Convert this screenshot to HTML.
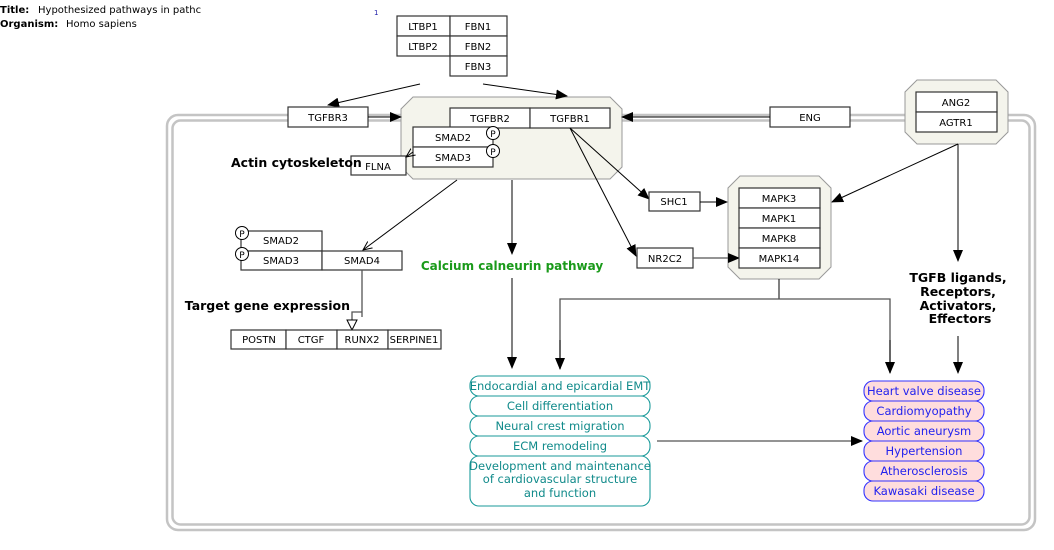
<!DOCTYPE html>
<html><head><meta charset="utf-8"><style>
html,body{margin:0;padding:0;background:#fff;}
svg{display:block;font-family:"DejaVu Sans","Liberation Sans",sans-serif;}
.n{fill:#fff;stroke:#333;stroke-width:1.2}
.t{font-size:10px;fill:#000;text-anchor:middle}
.l{stroke:#000;stroke-width:1;fill:none}
.g{stroke:#555;stroke-width:1.3;fill:none}
.p{fill:#fff;stroke:#1a9a9a;stroke-width:1.1}
.pt{font-size:11.5px;fill:#108a8a;text-anchor:middle}
.d{fill:#ffdddd;stroke:#3333ff;stroke-width:1.1}
.dt{font-size:11.5px;fill:#2222ee;text-anchor:middle}
.b{font-size:12.5px;font-weight:bold;fill:#000}
</style></head><body>
<svg width="1054" height="550" viewBox="0 0 1054 550">
<defs>
<marker id="a" markerWidth="12" markerHeight="10" refX="11" refY="5" orient="auto" markerUnits="userSpaceOnUse"><path d="M0,0 L12,5 L0,10Z" fill="#000"/></marker>
<marker id="o" markerWidth="10" markerHeight="10" refX="9" refY="5" orient="auto" markerUnits="userSpaceOnUse"><path d="M0,1 L9,5 L0,9" fill="none" stroke="#000"/></marker>
</defs>
<text x="0" y="13" style="font-size:10px;font-weight:bold">Title:</text><text x="38" y="13" style="font-size:10px">Hypothesized pathways in pathc</text>
<text x="0" y="27" style="font-size:10px;font-weight:bold">Organism:</text><text x="66" y="27" style="font-size:10px">Homo sapiens</text>
<text x="374" y="15" style="font-size:7px;fill:#22a">1</text>

<!-- membrane -->
<rect x="167" y="115" width="868" height="415" rx="11" fill="none" stroke="#c4c4c4" stroke-width="2.5"/>
<rect x="172.5" y="120.5" width="857" height="404" rx="8" fill="none" stroke="#c4c4c4" stroke-width="2.5"/>

<!-- groups -->
<path d="M413,97 L610,97 L622,109 L622,167 L610,179 L413,179 L401,167 L401,109Z" fill="#f4f4ec" stroke="#999"/>
<path d="M917,80 L996,80 L1008,92 L1008,132 L996,144 L917,144 L905,132 L905,92Z" fill="#f4f4ec" stroke="#999"/>
<path d="M740,176 L819,176 L831,188 L831,267 L819,279 L740,279 L728,267 L728,188Z" fill="#f4f4ec" stroke="#999"/>

<!-- top nodes -->
<rect class="n" x="397" y="16" width="53" height="20"/><text class="t" x="423" y="30">LTBP1</text>
<rect class="n" x="450" y="16" width="57" height="20"/><text class="t" x="478" y="30">FBN1</text>
<rect class="n" x="397" y="36" width="53" height="20"/><text class="t" x="423" y="50">LTBP2</text>
<rect class="n" x="450" y="36" width="57" height="20"/><text class="t" x="478" y="50">FBN2</text>
<rect class="n" x="450" y="56" width="57" height="20"/><text class="t" x="478" y="70">FBN3</text>
<line class="l" x1="420" y1="84" x2="328" y2="105" marker-end="url(#a)"/>
<line class="l" x1="483" y1="84" x2="567" y2="96" marker-end="url(#a)"/>

<rect class="n" x="288" y="107" width="80" height="20"/><text class="t" x="328" y="121">TGFBR3</text>
<line class="l" x1="368" y1="117" x2="401" y2="117" marker-end="url(#a)"/>
<rect class="n" x="450" y="108" width="80" height="20"/><text class="t" x="490" y="122">TGFBR2</text>
<rect class="n" x="530" y="108" width="80" height="20"/><text class="t" x="570" y="122">TGFBR1</text>
<rect class="n" x="413" y="127" width="80" height="20"/><text class="t" x="453" y="141">SMAD2</text>
<rect class="n" x="413" y="147" width="80" height="20"/><text class="t" x="453" y="161">SMAD3</text>
<circle cx="493" cy="133" r="6.5" fill="#fff" stroke="#000"/><text x="493" y="137" style="font-size:9px;text-anchor:middle">P</text>
<circle cx="493" cy="151" r="6.5" fill="#fff" stroke="#000"/><text x="493" y="155" style="font-size:9px;text-anchor:middle">P</text>
<rect class="n" x="351" y="156" width="55" height="19"/><text class="t" x="378" y="170">FLNA</text>
<line class="l" x1="413" y1="152" x2="406" y2="157" marker-end="url(#o)"/>
<text class="b" x="231" y="167">Actin cytoskeleton</text>

<rect class="n" x="770" y="107" width="80" height="20"/><text class="t" x="810" y="121">ENG</text>
<line class="l" x1="770" y1="117" x2="622" y2="117" marker-end="url(#a)"/>
<rect class="n" x="916" y="92" width="81" height="20"/><text class="t" x="956" y="106">ANG2</text>
<rect class="n" x="916" y="112" width="81" height="20"/><text class="t" x="956" y="126">AGTR1</text>

<line class="l" x1="570" y1="128" x2="649" y2="199" marker-end="url(#a)"/>
<line class="l" x1="570" y1="128" x2="636" y2="256" marker-end="url(#a)"/>
<rect class="n" x="649" y="192" width="51" height="19"/><text class="t" x="674" y="205">SHC1</text>
<rect class="n" x="637" y="248" width="56" height="20"/><text class="t" x="665" y="262">NR2C2</text>
<line class="l" x1="700" y1="202" x2="727" y2="202" marker-end="url(#a)"/>
<line class="g" x1="693" y1="258" x2="739" y2="258" marker-end="url(#a)"/>
<rect class="n" x="739" y="188" width="81" height="20"/><text class="t" x="779" y="202">MAPK3</text>
<rect class="n" x="739" y="208" width="81" height="20"/><text class="t" x="779" y="222">MAPK1</text>
<rect class="n" x="739" y="228" width="81" height="20"/><text class="t" x="779" y="242">MAPK8</text>
<rect class="n" x="739" y="248" width="81" height="20"/><text class="t" x="779" y="262">MAPK14</text>

<line class="l" x1="958" y1="144" x2="832" y2="202" marker-end="url(#a)"/>
<line class="l" x1="958" y1="144" x2="958" y2="261" marker-end="url(#a)"/>
<g class="b" style="text-anchor:middle"><text x="958" y="282">TGFB ligands,</text><text x="958" y="296">Receptors,</text><text x="958" y="310">Activators,</text><text x="960" y="323">Effectors</text></g>
<line class="l" x1="958" y1="336" x2="958" y2="373" marker-end="url(#a)"/>

<polyline class="l" points="779,279 779,299" />
<polyline class="g" points="560,369 560,299 890,299 890,373" fill="none"/>
<line class="l" x1="560" y1="340" x2="560" y2="369" marker-end="url(#a)"/>
<line class="l" x1="890" y1="340" x2="890" y2="373" marker-end="url(#a)"/>

<!-- smad lower -->
<line class="l" x1="457" y1="180" x2="363" y2="250" marker-end="url(#o)"/>
<line class="l" x1="512" y1="180" x2="512" y2="254" marker-end="url(#a)"/>
<rect class="n" x="241" y="231" width="81" height="20"/><text class="t" x="281" y="244">SMAD2</text>
<rect class="n" x="241" y="251" width="81" height="19"/><text class="t" x="281" y="264">SMAD3</text>
<rect class="n" x="322" y="251" width="80" height="19"/><text class="t" x="362" y="264">SMAD4</text>
<circle cx="242" cy="233" r="6.5" fill="#fff" stroke="#000"/><text x="242" y="237" style="font-size:9px;text-anchor:middle">P</text>
<circle cx="242" cy="254" r="6.5" fill="#fff" stroke="#000"/><text x="242" y="258" style="font-size:9px;text-anchor:middle">P</text>
<polyline class="g" points="362,270 362,317 362,312 352,312 352,320"/>
<path d="M347,320 L357,320 L352,330Z" fill="#fff" stroke="#000"/>
<text class="b" x="350" y="310" style="text-anchor:end">Target gene expression</text>
<rect class="n" x="231" y="330" width="55" height="19"/><text class="t" x="259" y="343">POSTN</text>
<rect class="n" x="286" y="330" width="51" height="19"/><text class="t" x="311" y="343">CTGF</text>
<rect class="n" x="337" y="330" width="51" height="19"/><text class="t" x="362" y="343">RUNX2</text>
<rect class="n" x="388" y="330" width="53" height="19"/><text class="t" x="414" y="343">SERPINE1</text>

<text x="512" y="270" style="font-size:12px;font-weight:bold;fill:#1a9a1a;text-anchor:middle">Calcium calneurin pathway</text>
<line class="l" x1="512" y1="278" x2="512" y2="368" marker-end="url(#a)"/>

<rect class="p" x="470" y="376" width="180" height="20" rx="9"/><text class="pt" x="560" y="390">Endocardial and epicardial EMT</text>
<rect class="p" x="470" y="396" width="180" height="20" rx="9"/><text class="pt" x="560" y="410">Cell differentiation</text>
<rect class="p" x="470" y="416" width="180" height="20" rx="9"/><text class="pt" x="560" y="430">Neural crest migration</text>
<rect class="p" x="470" y="436" width="180" height="20" rx="9"/><text class="pt" x="560" y="450">ECM remodeling</text>
<rect class="p" x="470" y="456" width="180" height="50" rx="9"/><text class="pt" x="560" y="470">Development and maintenance</text><text class="pt" x="560" y="483">of cardiovascular structure</text><text class="pt" x="560" y="497">and function</text>
<line class="g" x1="657" y1="441" x2="862" y2="441" marker-end="url(#a)"/>

<rect class="d" x="864" y="381" width="120" height="20" rx="9"/><text class="dt" x="924" y="395">Heart valve disease</text>
<rect class="d" x="864" y="401" width="120" height="20" rx="9"/><text class="dt" x="924" y="415">Cardiomyopathy</text>
<rect class="d" x="864" y="421" width="120" height="20" rx="9"/><text class="dt" x="924" y="435">Aortic aneurysm</text>
<rect class="d" x="864" y="441" width="120" height="20" rx="9"/><text class="dt" x="924" y="455">Hypertension</text>
<rect class="d" x="864" y="461" width="120" height="20" rx="9"/><text class="dt" x="924" y="475">Atherosclerosis</text>
<rect class="d" x="864" y="481" width="120" height="20" rx="9"/><text class="dt" x="924" y="495">Kawasaki disease</text>
</svg>
</body></html>
